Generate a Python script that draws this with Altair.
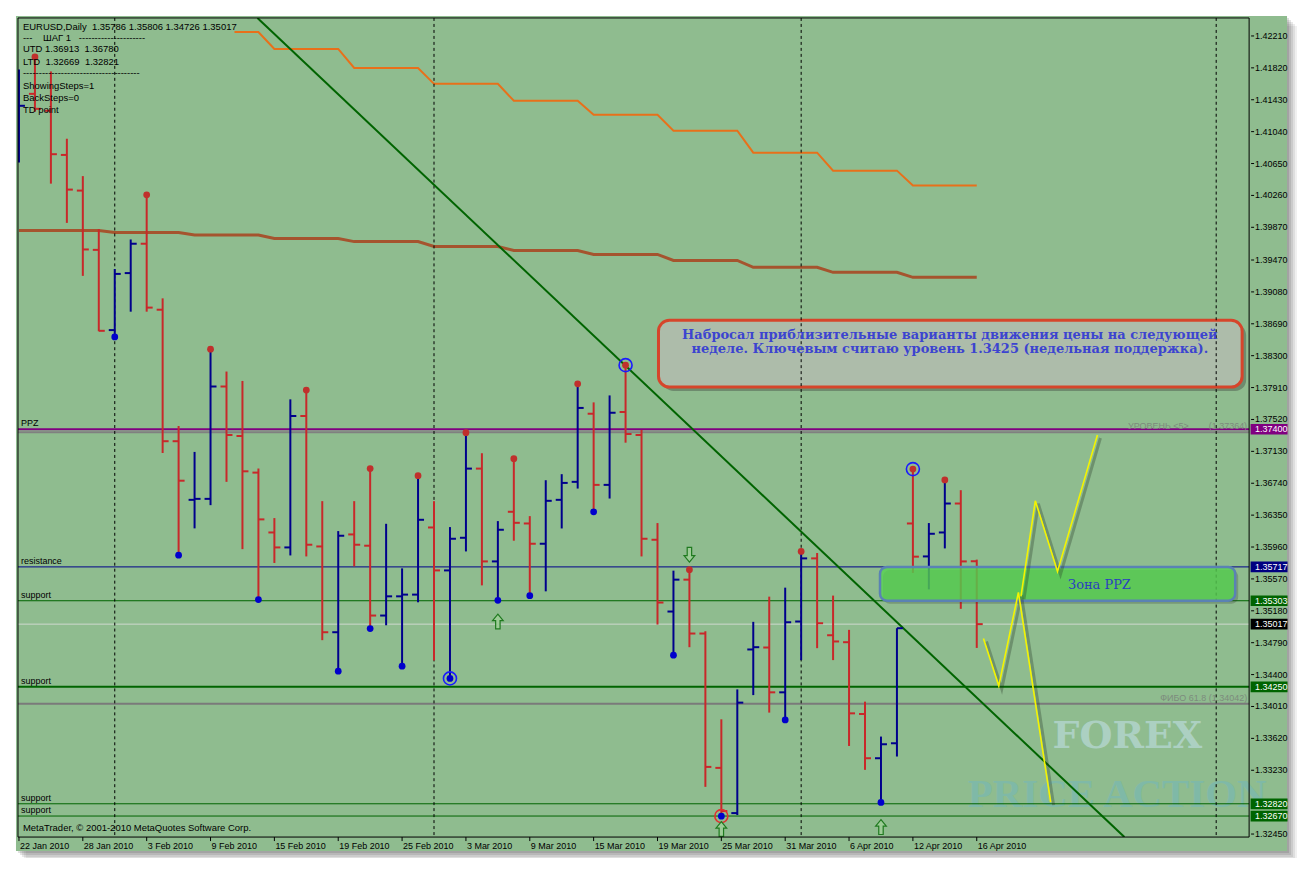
import altair as alt
import pandas as pd

# ---------------- data ----------------
dates = ["22 Jan", "25 Jan", "26 Jan", "27 Jan", "28 Jan", "29 Jan",
         "1 Feb", "2 Feb", "3 Feb", "4 Feb", "5 Feb",
         "8 Feb", "9 Feb", "10 Feb", "11 Feb", "12 Feb",
         "15 Feb", "16 Feb", "17 Feb", "18 Feb", "19 Feb",
         "22 Feb", "23 Feb", "24 Feb", "25 Feb", "26 Feb",
         "1 Mar", "2 Mar", "3 Mar", "4 Mar", "5 Mar",
         "8 Mar", "9 Mar", "10 Mar", "11 Mar", "12 Mar",
         "15 Mar", "16 Mar", "17 Mar", "18 Mar", "19 Mar",
         "22 Mar", "23 Mar", "24 Mar", "25 Mar", "26 Mar",
         "29 Mar", "30 Mar", "31 Mar", "1 Apr", "2 Apr",
         "5 Apr", "6 Apr", "7 Apr", "8 Apr", "9 Apr",
         "12 Apr", "13 Apr", "14 Apr", "15 Apr", "16 Apr"]

opens = [1.40807, 1.41502, 1.41295, 1.40755, 1.40319, 1.39594,
         1.38613, 1.39310, 1.39669, 1.38862, 1.37254,
         1.36537, 1.36549, 1.37923, 1.37318, 1.36870,
         1.36138, 1.35955, 1.37562, 1.35967, 1.34918,
         1.36114, 1.35976, 1.35122, 1.35357, 1.35378,
         1.36199, 1.35674, 1.36073, 1.36919, 1.35784,
         1.36391, 1.36248, 1.36000, 1.36537, 1.36757,
         1.37590, 1.36720, 1.37611, 1.37330, 1.36049,
         1.35171, 1.35561, 1.34902, 1.33259, 1.32706,
         1.34707, 1.34731, 1.34183, 1.35049, 1.35821,
         1.34881, 1.34796, 1.33918, 1.33377, 1.33560,
         1.36248, 1.35845, 1.36138, 1.36492, 1.35786]
highs = [1.41800, 1.41954, 1.41776, 1.40953, 1.40496, 1.39848,
         1.39360, 1.39721, 1.40267, 1.39001, 1.37440,
         1.37123, 1.38379, 1.38106, 1.37991, 1.36920,
         1.36314, 1.37766, 1.37879, 1.36521, 1.36155,
         1.36521, 1.36919, 1.36244, 1.35699, 1.36833,
         1.36521, 1.36204, 1.37358, 1.37107, 1.36277,
         1.37041, 1.36338, 1.36777, 1.36851, 1.37956,
         1.37729, 1.37814, 1.38184, 1.37391, 1.36253,
         1.35671, 1.35683, 1.34930, 1.33853, 1.34219,
         1.35045, 1.35353, 1.35463, 1.35906, 1.35887,
         1.35366, 1.34947, 1.34069, 1.33642, 1.34967,
         1.36913, 1.36253, 1.36781, 1.36655, 1.35806]
lows = [1.40661, 1.41283, 1.40404, 1.39924, 1.39276, 1.38599,
        1.38529, 1.38838, 1.38838, 1.37110, 1.35860,
        1.36188, 1.36472, 1.36757, 1.35934, 1.35317,
        1.35765, 1.35857, 1.35845, 1.34821, 1.34442,
        1.35723, 1.34963, 1.35003, 1.34503, 1.35284,
        1.34573, 1.34353, 1.35906, 1.35491, 1.35308,
        1.36037, 1.35365, 1.35418, 1.36187, 1.36675,
        1.36391, 1.36553, 1.37236, 1.35845, 1.35012,
        1.34637, 1.34735, 1.33027, 1.32669, 1.32682,
        1.34149, 1.33935, 1.33845, 1.34577, 1.34723,
        1.34577, 1.33527, 1.33235, 1.32837, 1.33398,
        1.35643, 1.35442, 1.35943, 1.35204, 1.34726]
closes = [1.41356, 1.41319, 1.40764, 1.40331, 1.39599, 1.38604,
          1.39300, 1.39669, 1.38888, 1.37254, 1.36771,
          1.36549, 1.37923, 1.37330, 1.36886, 1.36298,
          1.35955, 1.37562, 1.35988, 1.34918, 1.36098,
          1.35988, 1.35122, 1.35357, 1.35378, 1.36293,
          1.35674, 1.36061, 1.36919, 1.35784, 1.36171,
          1.36256, 1.36000, 1.36525, 1.36744, 1.37661,
          1.36720, 1.37602, 1.37342, 1.36061, 1.35281,
          1.35561, 1.34902, 1.33271, 1.32731, 1.34057,
          1.34735, 1.34183, 1.35040, 1.35821, 1.35028,
          1.34805, 1.33926, 1.33377, 1.33548, 1.34967,
          1.35842, 1.36122, 1.36492, 1.35784, 1.35017]

high_dots = [1, 8, 12, 18, 22, 25, 28, 31, 35, 38, 42, 49, 56, 58]
low_dots = [6, 10, 15, 20, 22, 24, 27, 30, 32, 36, 41, 44, 48, 54]
ring_bars = [38, 27, 56, 44]
ring_side = ["high", "low", "high", "low"]
ring_color = ["#1a1aff", "#1a1aff", "#1a1aff", "#e03030"]

arrow_up_bars = [30, 44, 54]
arrow_up_price = [1.35049, 1.32511, 1.32535]
arrow_dn_bars = [42]
arrow_dn_price = [1.35866]

week_start = [0, 6, 11, 16, 21, 26, 31, 36, 41, 46, 51, 56]
brown_week = [1.39831, 1.39807, 1.39776, 1.39733, 1.39695, 1.39636,
              1.39587, 1.39538, 1.39465, 1.39380, 1.39319, 1.39258]
orange_week = [None, None, 1.42259, 1.42051, 1.41819, 1.41624,
               1.41417, 1.41246, 1.41051, 1.40783, 1.40563, 1.40380]
orange_from = 13.5

trend_x = [14.94, 69.25]
trend_y = [1.42430, 1.32413]

separators = [6, 26, 49, 75]

level_price = [1.37364, 1.37400, 1.35717, 1.35303, 1.35017, 1.34250, 1.34042, 1.32820, 1.32670]
level_color = ["#808080", "#800080", "#00008b", "#006400", "#cfd8cf", "#006400", "#7a7a7a", "#006400", "#006400"]
level_width = [2, 2, 1, 1, 1, 2, 2, 1, 1]

left_label_text = ["PPZ", "resistance", "support", "support", "support", "support"]
left_label_price = [1.37400, 1.35717, 1.35303, 1.34250, 1.32820, 1.32670]

box_price = [1.37400, 1.35717, 1.35303, 1.35017, 1.34250, 1.32820, 1.32670]
box_color = ["#800080", "#000080", "#006400", "#000000", "#006400", "#006400", "#006400"]

yellow_path = ["A", "A", "A", "A", "B", "B", "B", "B"]
yellow_x = [60.42, 61.38, 62.61, 64.63, 62.77, 63.67, 65.06, 67.56]
yellow_y = [1.34841, 1.34262, 1.35406, 1.32840, 1.35357, 1.36525, 1.35662, 1.37330]

zone_x = [53.94, 76.19]
zone_y = [1.35303, 1.35717]

x_tick_labels = ["22 Jan 2010", "28 Jan 2010", "3 Feb 2010", "9 Feb 2010", "15 Feb 2010",
                 "19 Feb 2010", "25 Feb 2010", "3 Mar 2010", "9 Mar 2010", "15 Mar 2010",
                 "19 Mar 2010", "25 Mar 2010", "31 Mar 2010", "6 Apr 2010", "12 Apr 2010",
                 "16 Apr 2010"]
x_tick_step = 4
y_tick_values = [1.42210, 1.41820, 1.41430, 1.41040, 1.40650, 1.40260, 1.39870, 1.39470,
                 1.39080, 1.38690, 1.38300, 1.37910, 1.37520, 1.37130, 1.36740, 1.36350,
                 1.35960, 1.35570, 1.35180, 1.34790, 1.34400, 1.34010, 1.33620, 1.33230,
                 1.32450]

NB = "\u00a0"
info_lines = ["EURUSD,Daily" + NB * 2 + "1.35786 1.35806 1.34726 1.35017",
              "---" + NB * 4 + "ШАГ 1" + NB * 3 + "---------------------",
              "UTD 1.36913" + NB * 2 + "1.36780",
              "LTD" + NB * 2 + "1.32669" + NB * 2 + "1.32821",
              "-------------------------------------",
              "ShowingSteps=1",
              "BackSteps=0",
              "TD point"]
note_lines = ["Набросал приблизительные варианты движения цены на следующей",
              "неделе. Ключевым считаю уровень 1.3425 (недельная поддержка)."]
level5_label = "УРОВЕНЬ <5>" + NB * 8 + "(1.37364)"
fibo_label = "ФИБО 61.8 (1.34042)"

# ---------------- build ----------------
W, H = 1234, 821
BG = "#8fbc8f"
RED = "#c8282a"
BLUE = "#00008c"
FONT = "Liberation Sans"

xs = alt.Scale(domain=[-0.0625, 77.0625], nice=False, zero=False)
ys = alt.Scale(domain=[1.32413, 1.42430], nice=False, zero=False)

n = len(dates)
bars = pd.DataFrame({"idx": list(range(n)), "date": dates, "o": opens, "h": highs,
                     "l": lows, "c": closes})
bars["dir"] = ["up" if c >= o else "down" for o, c in zip(opens, closes)]

brown_vals, orange_vals = [], []
for i in range(n):
    w = max(k for k, s in enumerate(week_start) if s <= i)
    brown_vals.append(brown_week[w])
    orange_vals.append(orange_week[w] if orange_week[w] is not None else orange_week[2])
brown_df = pd.DataFrame({"idx": list(range(n)), "v": brown_vals})
o_idx = [orange_from] + [i for i in range(n) if i > orange_from]
o_val = [orange_week[2]] + [orange_vals[i] for i in range(n) if i > orange_from]
orange_df = pd.DataFrame({"idx": o_idx, "v": o_val})

dummy = pd.DataFrame({"a": [0]})


def vrect(x, x2, y, y2, **kw):
    return alt.Chart(dummy).mark_rect(**kw).encode(
        x=alt.value(x), x2=alt.value(x2), y=alt.value(y), y2=alt.value(y2))


def vtext(x, y, s, **kw):
    return alt.Chart(dummy).mark_text(text=s, **kw).encode(x=alt.value(x), y=alt.value(y))


X = lambda f: alt.X(f, type="quantitative", scale=xs, axis=None)
Y = lambda f: alt.Y(f, type="quantitative", scale=ys, axis=None)

layers = []
# window shadow
for k, op in [(10, 0.08), (8, 0.1), (6, 0.12), (4, 0.14), (2, 0.16)]:
    layers.append(vrect(-2 + k, 1272 + k, -2 + k, 835 + k, color="#404040", opacity=op))
# panel
layers.append(vrect(-2, 1272, -2, 835, color=BG))

# watermark
layers.append(vtext(1112, 721, "FOREX", font="DejaVu Serif", fontSize=38, fontWeight="bold",
                    color="#b4d6cf", opacity=0.8, align="center", baseline="middle"))
layers.append(vtext(952, 791, "PRICE ACTION", font="Liberation Serif", fontSize=41, fontWeight="bold",
                    color="#79b9b2", opacity=0.7, align="left", baseline="alphabetic"))

# moving lines
layers.append(alt.Chart(brown_df).mark_line(color="#a5542e", strokeWidth=3).encode(x=X("idx"), y=Y("v")))
layers.append(alt.Chart(orange_df).mark_line(color="#e8701a", strokeWidth=2).encode(x=X("idx"), y=Y("v")))

# horizontal levels
lev_df = pd.DataFrame({"p": level_price, "col": level_color, "w": level_width})
layers.append(alt.Chart(lev_df).mark_rule().encode(
    y=Y("p"), color=alt.Color("col:N", scale=None), strokeWidth=alt.StrokeWidth("w:Q", scale=None)))

# note box
layers.append(vrect(646, 1231, 307, 374, color="#303030", opacity=0.35, cornerRadius=11))
layers.append(vrect(642, 1227, 303, 370, fill="#adbcaa", stroke="#d6452b", strokeWidth=3,
                    cornerRadius=11))

# separators
sep_df = pd.DataFrame({"s": separators})
layers.append(alt.Chart(sep_df).mark_rule(color="black", strokeDash=[3, 3], strokeWidth=1).encode(x=X("s")))

# trend line
tr_df = pd.DataFrame({"x": trend_x, "y": trend_y})
layers.append(alt.Chart(tr_df).mark_line(color="#006400", strokeWidth=2, clip=True).encode(x=X("x"), y=Y("y")))

# OHLC bars
color = alt.Color("dir:N", scale=alt.Scale(domain=["up", "down"], range=[BLUE, RED]), legend=None)
layers.append(alt.Chart(bars).mark_rule(strokeWidth=2, clip=True).encode(
    x=X("idx"), y=Y("l"), y2="h:Q", color=color))
layers.append(alt.Chart(bars).mark_rule(strokeWidth=2, xOffset=-6, x2Offset=0, clip=True).encode(
    x=X("idx"), x2="idx:Q", y=Y("o"), color=color))
layers.append(alt.Chart(bars).mark_rule(strokeWidth=2, xOffset=0, x2Offset=6, clip=True).encode(
    x=X("idx"), x2="idx:Q", y=Y("c"), color=color))

# TD points
hd = bars.loc[high_dots]
ld = bars.loc[low_dots]
layers.append(alt.Chart(hd).mark_circle(size=46, color="#c0302c", opacity=1).encode(x=X("idx"), y=Y("h")))
layers.append(alt.Chart(ld).mark_circle(size=46, color="#0000cc", opacity=1).encode(x=X("idx"), y=Y("l")))

ring_df = pd.DataFrame({"idx": ring_bars,
                        "p": [highs[b] if s == "high" else lows[b] for b, s in zip(ring_bars, ring_side)],
                        "col": ring_color})
layers.append(alt.Chart(ring_df).mark_point(shape="circle", filled=False, size=170, strokeWidth=1.6,
                                            opacity=1).encode(
    x=X("idx"), y=Y("p"), stroke=alt.Stroke("col:N", scale=None)))

# arrows
up_path = "M0,-1 L0.72,-0.12 L0.3,-0.12 L0.3,1 L-0.3,1 L-0.3,-0.12 L-0.72,-0.12 Z"
dn_path = "M0,1 L0.72,0.12 L0.3,0.12 L0.3,-1 L-0.3,-1 L-0.3,0.12 L-0.72,0.12 Z"
au = pd.DataFrame({"idx": arrow_up_bars, "p": arrow_up_price})
ad = pd.DataFrame({"idx": arrow_dn_bars, "p": arrow_dn_price})
layers.append(alt.Chart(au).mark_point(shape=up_path, size=220, filled=True, fill="#9ccc96",
                                       stroke="#1f7a1f", strokeWidth=1.2, opacity=1).encode(x=X("idx"), y=Y("p")))
layers.append(alt.Chart(ad).mark_point(shape=dn_path, size=220, filled=True, fill="#9ccc96",
                                       stroke="#1f7a1f", strokeWidth=1.2, opacity=1).encode(x=X("idx"), y=Y("p")))

# PPZ zone
zone_df = pd.DataFrame({"x": [zone_x[0]], "x2": [zone_x[1]], "y": [zone_y[0]], "y2": [zone_y[1]]})
layers.append(alt.Chart(zone_df).mark_rect(color="#303030", opacity=0.25, cornerRadius=7,
                                           xOffset=3, x2Offset=3, yOffset=3, y2Offset=3).encode(
    x=X("x"), x2="x2:Q", y=Y("y"), y2="y2:Q"))
layers.append(alt.Chart(zone_df).mark_rect(fill="#56d34f", fillOpacity=0.78, stroke="#5a82b4",
                                           strokeWidth=2.5, cornerRadius=7).encode(
    x=X("x"), x2="x2:Q", y=Y("y"), y2="y2:Q"))
layers.append(vtext(1084, 568, "Зона PPZ", font="DejaVu Serif", fontSize=13, color="#2a3fc0",
                    align="center", baseline="middle"))

# yellow forecast with shadow
yl = pd.DataFrame({"path": yellow_path, "x": yellow_x, "y": yellow_y, "o": list(range(len(yellow_x)))})
layers.append(alt.Chart(yl).mark_line(color="#203020", strokeWidth=3, opacity=0.3, xOffset=3, yOffset=3).encode(
    x=X("x"), y=Y("y"), detail="path:N", order="o:Q"))
layers.append(alt.Chart(yl).mark_line(color="#f4f400", strokeWidth=1.6).encode(
    x=X("x"), y=Y("y"), detail="path:N", order="o:Q"))

# left level labels
ll = pd.DataFrame({"t": left_label_text, "p": left_label_price})
layers.append(alt.Chart(ll).mark_text(font=FONT, fontSize=9, color="black", align="left",
                                      baseline="bottom", dy=-1).encode(
    x=alt.value(3), y=Y("p"), text="t:N"))

# grey object labels
layers.append(alt.Chart(pd.DataFrame({"p": [1.37364], "t": [level5_label]})).mark_text(
    font=FONT, fontSize=9, color="#7d8b7d", align="right", baseline="bottom", dy=-1).encode(
    x=alt.value(1232), y=Y("p"), text="t:N"))
layers.append(alt.Chart(pd.DataFrame({"p": [1.34042], "t": [fibo_label]})).mark_text(
    font=FONT, fontSize=9, color="#7d8b7d", align="right", baseline="bottom", dy=-1).encode(
    x=alt.value(1232), y=Y("p"), text="t:N"))

# info text
info_y = [9, 20, 31.5, 44, 55, 68, 80, 92]
for t, yy in zip(info_lines, info_y):
    layers.append(vtext(5, yy, t, font=FONT, fontSize=9.5, color="black", align="left", baseline="middle"))
layers.append(vtext(5, 812, "MetaTrader, © 2001-2010 MetaQuotes Software Corp.", font=FONT, fontSize=9.5,
                    color="black", align="left", baseline="middle"))

# note text
for t, yy in zip(note_lines, [318, 332]):
    layers.append(vtext(934, yy, t, font="DejaVu Serif", fontSize=13, fontWeight="bold",
                        color="#3c44d0", align="center", baseline="middle"))

# ---- price axis (right) ----
yt = pd.DataFrame({"p": y_tick_values, "t": ["%.5f" % v for v in y_tick_values]})
layers.append(alt.Chart(yt).mark_rule(color="black", strokeWidth=1).encode(
    x=alt.value(W + 2), x2=alt.value(W + 5), y=Y("p")))
layers.append(alt.Chart(yt).mark_text(font=FONT, fontSize=9, color="black", align="left",
                                      baseline="middle").encode(
    x=alt.value(W + 6), y=Y("p"), text="t:N"))

# right price boxes
bx = pd.DataFrame({"p": box_price, "col": box_color, "t": ["%.5f" % v for v in box_price]})
box_path = "M-1,-0.29 L1,-0.29 L1,0.29 L-1,0.29 Z"
layers.append(alt.Chart(bx).mark_point(shape=box_path, size=1369, filled=True, opacity=1,
                                       strokeWidth=0).encode(
    x=alt.value(W + 20), y=Y("p"), fill=alt.Fill("col:N", scale=None)))
layers.append(alt.Chart(bx).mark_text(font=FONT, fontSize=9, color="white", align="left",
                                      baseline="middle").encode(
    x=alt.value(W + 6), y=Y("p"), text="t:N"))

# ---- date axis (bottom) ----
xt = pd.DataFrame({"i": [x_tick_step * k for k in range(len(x_tick_labels))], "t": x_tick_labels})
layers.append(alt.Chart(xt).mark_rule(color="black", strokeWidth=1).encode(
    x=X("i"), y=alt.value(H), y2=alt.value(H + 4)))
layers.append(alt.Chart(xt).mark_text(font=FONT, fontSize=9, color="black", align="left",
                                      baseline="middle", dx=1).encode(
    x=X("i"), y=alt.value(H + 9), text="t:N"))

# frame
layers.append(vrect(0, W, 0, H, fill=None, fillOpacity=0, stroke="black", strokeWidth=1))

chart = alt.layer(*layers).properties(
    width=W, height=H, autosize="none",
    padding={"left": 10, "top": 9, "right": 50, "bottom": 20}
).configure_view(stroke=None).configure(background="white")

chart.save("out.html", embed_options={"renderer": "svg", "actions": False})
